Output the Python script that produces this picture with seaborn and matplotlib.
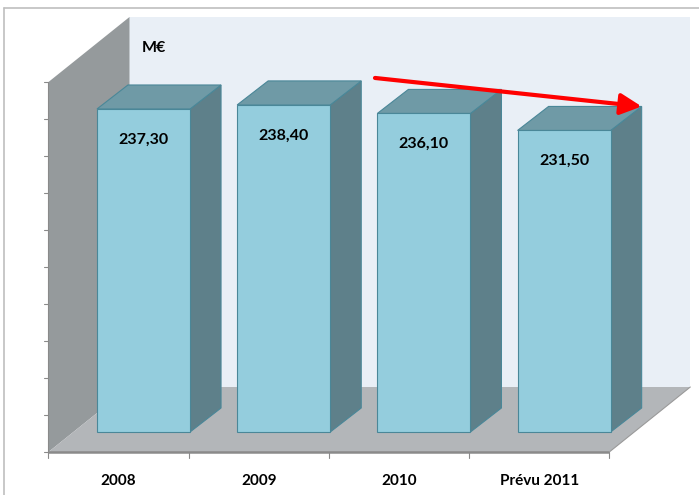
import matplotlib
matplotlib.use("Agg")
import matplotlib.pyplot as plt
import seaborn as sns
import pandas as pd
from matplotlib.patches import Polygon, FancyArrowPatch
from matplotlib.lines import Line2D

# ---- data ----
categories = ["2008", "2009", "2010", "Prévu 2011"]
values = [237.30, 238.40, 236.10, 231.50]
unit_label = "M€"
axis_min, axis_max, axis_step = 150, 250, 10

# ---- style ----
FRONT = "#94CDDD"
SIDE = "#5E808A"
TOP = "#6F9AA6"
EDGE = "#4A8798"
BACKWALL = "#E9EFF6"
LEFTWALL = "#959A9C"
FLOOR = "#B3B6B9"

sns.set_theme(style="white")
plt.rcParams['font.family'] = ['Lato', 'DejaVu Sans']

fig = plt.figure(figsize=(6.99, 4.95), dpi=100)
ax = fig.add_axes([0, 0, 1, 1])

df = pd.DataFrame({"cat": categories, "val": values})
bar_w = 0.664
sns.barplot(data=df, x="cat", y="val", color=FRONT, saturation=1, width=bar_w,
            edgecolor=EDGE, linewidth=0.8, ax=ax, zorder=5)
bars = list(ax.patches)

ax.set_xlim(-1.0235, 3.962)
ax.set_ylim(132.97, 266.76)
ax.axis("off")

# 3D geometry (in data units)
bdx, bdy = 0.221, 6.49        # bar depth
sx, sy = 0.178, 5.41          # floor front -> bar front plane
fdx, fdy = 0.578, 17.57       # full floor depth
n = len(categories)

fx0 = -0.5 - sx
fx1 = n - 0.5 - sx
fy0 = axis_min - sy
ftop = axis_max - sy

# back wall
ax.add_patch(Polygon([(fx0 + fdx, fy0 + fdy), (fx1 + fdx, fy0 + fdy),
                      (fx1 + fdx, ftop + fdy), (fx0 + fdx, ftop + fdy)],
                     closed=True, facecolor=BACKWALL, edgecolor="none", zorder=1))
# left wall
ax.add_patch(Polygon([(fx0, fy0), (fx0, ftop), (fx0 + fdx, ftop + fdy), (fx0 + fdx, fy0 + fdy)],
                     closed=True, facecolor=LEFTWALL, edgecolor="none", zorder=2))
# floor
ax.add_patch(Polygon([(fx0, fy0), (fx1, fy0), (fx1 + fdx, fy0 + fdy), (fx0 + fdx, fy0 + fdy)],
                     closed=True, facecolor=FLOOR, edgecolor="none", zorder=2))
ax.plot([fx0, fx1], [fy0, fy0], color="#8A8A8A", lw=1.8, zorder=3, solid_capstyle="butt")
ax.plot([fx1, fx1 + fdx], [fy0, fy0 + fdy], color="#9A9A9A", lw=0.8, zorder=3)
ax.plot([fx0, fx0], [fy0, ftop], color="#8A8A8A", lw=0.8, zorder=3)

# left axis ticks
for k in range(int((axis_max - axis_min) / axis_step) + 1):
    yy = fy0 + k * axis_step
    ax.plot([fx0 - 0.03, fx0], [yy, yy], color="#8A8A8A", lw=0.8, zorder=3)
# bottom ticks
for i in range(n + 1):
    xx = fx0 + i
    ax.plot([xx, xx], [fy0, fy0 - 1.6], color="#8A8A8A", lw=0.8, zorder=3)

# bars: set base, add side and top faces
for p, v in zip(bars, values):
    p.set_y(axis_min)
    p.set_height(v - axis_min)
    x0 = p.get_x()
    w = p.get_width()
    ax.add_patch(Polygon([(x0 + w, axis_min), (x0 + w + bdx, axis_min + bdy),
                          (x0 + w + bdx, v + bdy), (x0 + w, v)],
                         closed=True, facecolor=SIDE, edgecolor=EDGE, lw=0.8, zorder=4))
    ax.add_patch(Polygon([(x0, v), (x0 + w, v), (x0 + w + bdx, v + bdy), (x0 + bdx, v + bdy)],
                         closed=True, facecolor=TOP, edgecolor=EDGE, lw=0.8, zorder=4))
    ax.text(x0 + w / 2, v - 8.3, f"{v:.2f}".replace(".", ","), ha="center", va="center",
            fontsize=11.5, fontweight="bold", color="black", zorder=6)

# category labels
for i, c in enumerate(categories):
    ax.text(i - sx, fy0 - 7.85, c, ha="center", va="center", fontsize=11,
            fontweight="bold", color="black", zorder=6)

# unit label
ax.text(fx0 + fdx + 0.09, 253.8, unit_label, ha="left", va="center", fontsize=11.5,
        fontweight="bold", color="black", zorder=6)

# trend arrow
last_bar = bars[-1]
end = (last_bar.get_x() + last_bar.get_width() + bdx, values[-1] + bdy)
start = (n - 2 - bar_w / 2 - 0.017, values[1] + bdy + 0.8)
arr = FancyArrowPatch(start, end, arrowstyle="-|>,head_length=0.8,head_width=0.4",
                      mutation_scale=16, color="#FF0000", lw=3, shrinkA=0, shrinkB=0, zorder=7)
ax.add_patch(arr)

# outer frame lines
fig.add_artist(Line2D([4 / 699, 1], [1 - 8 / 495, 1 - 8 / 495], transform=fig.transFigure,
                      color="#BFBFBF", lw=1.2))
fig.add_artist(Line2D([4 / 699, 4 / 699], [0, 1 - 8 / 495], transform=fig.transFigure,
                      color="#BFBFBF", lw=1.2))

fig.savefig("out.png", dpi=100, facecolor="white")
